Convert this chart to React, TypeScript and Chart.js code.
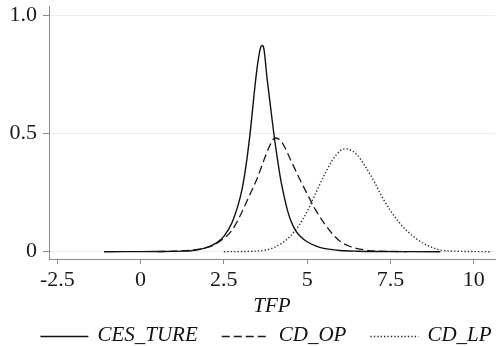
import { useEffect, useRef } from 'react';
import { Chart, registerables } from 'chart.js';

Chart.register(...registerables);

// ---- data ----
const seriesNames = ['CES_TURE', 'CD_OP', 'CD_LP'];

const cesX = [-1.1, -0.5, 0, 0.5, 1.0, 1.25, 1.5, 1.75, 2.0, 2.25, 2.5, 2.75, 3.0, 3.1, 3.2, 3.3, 3.4, 3.5, 3.6, 3.65, 3.7, 3.8, 3.9, 4.0, 4.1, 4.2, 4.3, 4.4, 4.5, 4.65, 4.8, 5.0, 5.25, 5.5, 6.0, 6.5, 7.0, 8.0, 9.0];
const cesY = [0, 0.0001, 0.0003, 0.0008, 0.0015, 0.0025, 0.004, 0.009, 0.018, 0.035, 0.065, 0.125, 0.235, 0.305, 0.4, 0.515, 0.655, 0.78, 0.862, 0.872, 0.86, 0.73, 0.615, 0.5, 0.4, 0.31, 0.24, 0.18, 0.135, 0.09, 0.064, 0.042, 0.025, 0.014, 0.005, 0.002, 0.001, 0.0002, 0];

const opX = [0.5, 1.0, 1.5, 2.0, 2.25, 2.5, 2.75, 3.0, 3.25, 3.5, 3.75, 3.9, 4.03, 4.15, 4.25, 4.5, 4.75, 5.0, 5.25, 5.5, 5.75, 6.0, 6.25, 6.5, 6.75, 7.0, 7.5, 8.0];
const opY = [0.0005, 0.002, 0.006, 0.018, 0.032, 0.056, 0.092, 0.155, 0.232, 0.31, 0.405, 0.455, 0.481, 0.476, 0.462, 0.39, 0.315, 0.245, 0.178, 0.123, 0.077, 0.043, 0.024, 0.013, 0.007, 0.003, 0.001, 0];

const lpX = [2.5, 3.0, 3.5, 3.75, 4.0, 4.25, 4.5, 4.75, 5.0, 5.25, 5.5, 5.75, 6.0, 6.15, 6.25, 6.5, 6.75, 7.0, 7.25, 7.5, 7.75, 8.0, 8.25, 8.5, 8.75, 9.0, 9.5, 10.0, 10.52];
const lpY = [0, 0.0005, 0.003, 0.007, 0.017, 0.037, 0.066, 0.11, 0.17, 0.245, 0.32, 0.385, 0.428, 0.435, 0.433, 0.41, 0.36, 0.3, 0.232, 0.174, 0.126, 0.088, 0.058, 0.034, 0.018, 0.007, 0.002, 0.0005, 0];

const xTickValues = [-2.5, 0, 2.5, 5, 7.5, 10];
const xTickLabels = ['-2.5', '0', '2.5', '5', '7.5', '10'];
const yTickValues = [0, 0.5, 1];
const yTickLabels = ['0', '0.5', '1.0'];
const xTitle = 'TFP';

const zip = (xs: number[], ys: number[]) => xs.map((x, i) => ({ x, y: ys[i] }));

const SERIF = '"Liberation Serif", "Times New Roman", serif';

const legendPlugin = {
  id: 'stataLegend',
  afterDraw(chart: any) {
    const ctx = chart.ctx as CanvasRenderingContext2D;
    const area = chart.chartArea;
    ctx.save();
    ctx.font = 'italic 21px ' + SERIF;
    const ds = chart.data.datasets;
    const lineW = 48, gap = 9, sep = 24;
    const widths = ds.map((d: any) => ctx.measureText(d.label).width);
    const total = widths.reduce((s: number, w: number) => s + lineW + gap + w, 0) + sep * (ds.length - 1);
    let x = (area.left + area.right) / 2 - 6 - total / 2;
    const y = 335;
    ds.forEach((d: any, i: number) => {
      ctx.beginPath();
      ctx.setLineDash(d.borderDash || []);
      ctx.lineWidth = d.borderWidth;
      ctx.strokeStyle = d.borderColor;
      ctx.moveTo(x, y + 1.5);
      ctx.lineTo(x + lineW, y + 1.5);
      ctx.stroke();
      ctx.setLineDash([]);
      ctx.fillStyle = '#111';
      ctx.textBaseline = 'middle';
      ctx.textAlign = 'left';
      ctx.fillText(d.label, x + lineW + gap, y);
      x += lineW + gap + widths[i] + sep;
    });
    ctx.restore();
  },
};

export default function App() {
  const ref = useRef<HTMLCanvasElement | null>(null);

  useEffect(() => {
    if (!ref.current) return;
    const chart = new Chart(ref.current, {
      type: 'line',
      data: {
        datasets: [
          {
            label: seriesNames[0],
            data: zip(cesX, cesY),
            borderColor: '#111111',
            borderWidth: 1.4,
            borderDash: [],
            pointRadius: 0,
            cubicInterpolationMode: 'monotone',
            fill: false,
          },
          {
            label: seriesNames[1],
            data: zip(opX, opY),
            borderColor: '#1a1a1a',
            borderWidth: 1.3,
            borderDash: [8, 4],
            pointRadius: 0,
            cubicInterpolationMode: 'monotone',
            fill: false,
          },
          {
            label: seriesNames[2],
            data: zip(lpX, lpY),
            borderColor: '#333333',
            borderWidth: 1.4,
            borderDash: [1.4, 2],
            pointRadius: 0,
            cubicInterpolationMode: 'monotone',
            fill: false,
          },
        ],
      },
      options: {
        animation: false,
        responsive: false,
        devicePixelRatio: 1,
        layout: { padding: { top: 6, right: 1, bottom: 26, left: 0 } },
        plugins: {
          legend: { display: false },
          tooltip: { enabled: false },
        },
        scales: {
          x: {
            type: 'linear',
            min: -2.749,
            max: 10.64,
            afterBuildTicks: (axis: any) => {
              axis.ticks = xTickValues.map((v) => ({ value: v }));
            },
            afterFit: (axis: any) => {
              axis.height = 61;
              axis.paddingLeft = 0;
              axis.paddingRight = 0;
            },
            ticks: {
              autoSkip: false,
              maxRotation: 0,
              padding: 5,
              color: '#1a1a1a',
              font: { family: SERIF, size: 22, lineHeight: 1 },
              callback: (v: any) => {
                const i = xTickValues.indexOf(Number(v));
                return i >= 0 ? xTickLabels[i] : '';
              },
            },
            grid: {
              drawOnChartArea: false,
              drawTicks: true,
              tickLength: 5,
              tickColor: '#8c8c8c',
              tickWidth: 1,
            },
            border: { display: true, color: '#8c8c8c', width: 1 },
            title: {
              display: true,
              text: xTitle,
              color: '#111',
              font: { family: SERIF, size: 21, style: 'italic', lineHeight: 1 },
              padding: { top: 0, bottom: 3.5 },
            },
          },
          y: {
            type: 'linear',
            min: -0.0309,
            max: 1.0393,
            afterBuildTicks: (axis: any) => {
              axis.ticks = yTickValues.map((v) => ({ value: v }));
            },
            afterFit: (axis: any) => {
              axis.width = 49;
              axis.paddingTop = 0;
              axis.paddingBottom = 0;
            },
            ticks: {
              padding: 6,
              color: '#1a1a1a',
              font: { family: SERIF, size: 22, lineHeight: 1 },
              callback: (v: any) => {
                const i = yTickValues.indexOf(Number(v));
                return i >= 0 ? yTickLabels[i] : '';
              },
            },
            grid: {
              drawOnChartArea: true,
              color: '#eeeeee',
              lineWidth: 1,
              drawTicks: true,
              tickLength: 6,
              tickColor: '#8c8c8c',
              tickWidth: 1,
            },
            border: { display: true, color: '#8c8c8c', width: 1 },
          },
        },
      } as any,
      plugins: [legendPlugin],
    });
    return () => chart.destroy();
  }, []);

  return (
    <div style={{ position: 'fixed', left: 0, top: 0, width: 496, height: 346, background: '#fff' }}>
      <canvas ref={ref} width={496} height={346} style={{ width: 496, height: 346, display: 'block' }} />
    </div>
  );
}
